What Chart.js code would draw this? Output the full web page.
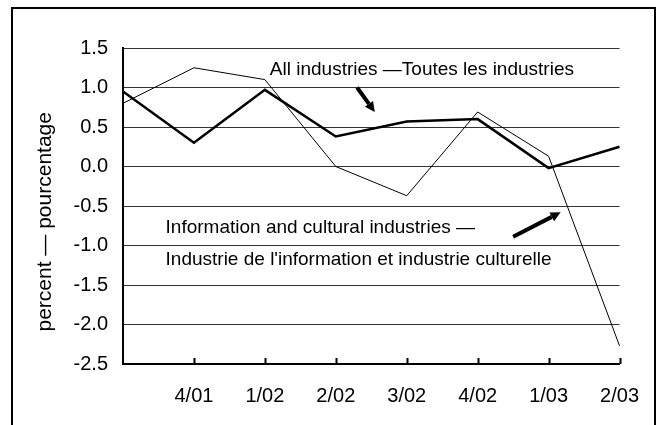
<!DOCTYPE html>
<html lang="en">
<head>
    <meta charset="UTF-8">
    <title>percent — pourcentage</title>
    <script src="https://cdn.jsdelivr.net/npm/chart.js"></script>
    <style>
        body { margin: 0; background: #fff; }
        #frame { position: absolute; left: 11px; top: 7px; width: 641px; height: 430px; border: 2px solid #000; }
        canvas { position: absolute; left: 0; top: 0; }
    </style>
</head>
<body>
    <div id="frame"></div>
    <canvas id="chart" width="659" height="425"></canvas>
    <script>
    // quarters (first point has no label)
    const quarters = ['', '4/01', '1/02', '2/02', '3/02', '4/02', '1/03', '2/03'];
    // All industries — Toutes les industries
    const allIndustries = [0.95, 0.30, 0.97, 0.38, 0.57, 0.60, -0.02, 0.25];
    // Information and cultural industries
    const infoCultural = [0.80, 1.25, 1.10, 0.00, -0.37, 0.69, 0.13, -2.27];
    const yTicks = [1.5, 1.0, 0.5, 0.0, -0.5, -1.0, -1.5, -2.0, -2.5];

    const FONT = 'Liberation Sans, Arial, sans-serif';

    // tick marks drawn upward from the x axis, axis title and the annotations
    const extras = {
        id: 'extras',
        afterDraw(chart) {
            const ctx = chart.ctx;
            const x = chart.scales.x, y = chart.scales.y;
            ctx.save();
            ctx.strokeStyle = '#000';
            ctx.lineWidth = 2;
            for (let i = 1; i < quarters.length; i++) {
                const px = Math.round(x.getPixelForValue(i)) + 0.5;
                ctx.beginPath();
                ctx.moveTo(px, y.bottom);
                ctx.lineTo(px, y.bottom - 6);
                ctx.stroke();
            }

            ctx.fillStyle = '#000';
            // y axis title, sits a bit below the middle like the original
            ctx.save();
            ctx.translate(45, y.getPixelForValue(-0.7));
            ctx.rotate(-Math.PI / 2);
            ctx.font = '21px ' + FONT;
            ctx.textAlign = 'center';
            ctx.textBaseline = 'middle';
            ctx.fillText('percent \u2014 pourcentage', 0, 0);
            ctx.restore();

            ctx.font = '19px ' + FONT;
            ctx.textBaseline = 'middle';
            ctx.fillText('All industries \u2014Toutes les industries', x.getPixelForValue(2.07), y.getPixelForValue(1.22));
            ctx.fillText('Information and cultural industries \u2014', x.getPixelForValue(0.6), y.getPixelForValue(-0.78));
            ctx.fillText("Industrie de l'information et industrie culturelle", x.getPixelForValue(0.6), y.getPixelForValue(-1.18));

            function arrow(x1, y1, x2, y2) {
                const ang = Math.atan2(y2 - y1, x2 - x1);
                const hl = 10, hw = 5;
                const bx = x2 - hl * Math.cos(ang), by = y2 - hl * Math.sin(ang);
                ctx.lineWidth = 4;
                ctx.beginPath();
                ctx.moveTo(x1, y1);
                ctx.lineTo(bx, by);
                ctx.stroke();
                ctx.beginPath();
                ctx.moveTo(x2, y2);
                ctx.lineTo(bx + hw * Math.sin(ang), by - hw * Math.cos(ang));
                ctx.lineTo(bx - hw * Math.sin(ang), by + hw * Math.cos(ang));
                ctx.closePath();
                ctx.fill();
            }
            arrow(x.getPixelForValue(3.3), y.getPixelForValue(1.0), x.getPixelForValue(3.55), y.getPixelForValue(0.69));
            arrow(x.getPixelForValue(5.5), y.getPixelForValue(-0.89), x.getPixelForValue(6.17), y.getPixelForValue(-0.58));
            ctx.restore();
        }
    };

    new Chart(document.getElementById('chart').getContext('2d'), {
        type: 'line',
        data: {
            labels: quarters,
            datasets: [{
                data: allIndustries,
                borderColor: '#000',
                borderWidth: 2.5,
                pointRadius: 0,
                tension: 0
            }, {
                data: infoCultural,
                borderColor: '#000',
                borderWidth: 1,
                pointRadius: 0,
                tension: 0
            }]
        },
        options: {
            responsive: false,
            animation: false,
            layout: { padding: { left: 25, top: 48, right: 39, bottom: 0 } },
            plugins: { legend: { display: false }, tooltip: { enabled: false } },
            scales: {
                x: {
                    offset: false,
                    afterFit(scale) { scale.height = 61; },
                    grid: { display: false, drawTicks: false },
                    border: { color: '#000', width: 2 },
                    ticks: { color: '#000', font: { family: FONT, size: 20 }, padding: 20, maxRotation: 0, autoSkip: false }
                },
                y: {
                    min: -2.5,
                    max: 1.5,
                    afterFit(scale) { scale.width = 98; },
                    afterBuildTicks(scale) { scale.ticks = yTicks.map(v => ({ value: v })); },
                    grid: { color: '#333', lineWidth: 1, drawTicks: false },
                    border: { color: '#000', width: 2 },
                    ticks: {
                        color: '#000',
                        padding: 15,
                        font: { family: FONT, size: 20 },
                        callback: v => v.toFixed(1)
                    }
                }
            }
        },
        plugins: [extras]
    });
    </script>
</body>
</html>
